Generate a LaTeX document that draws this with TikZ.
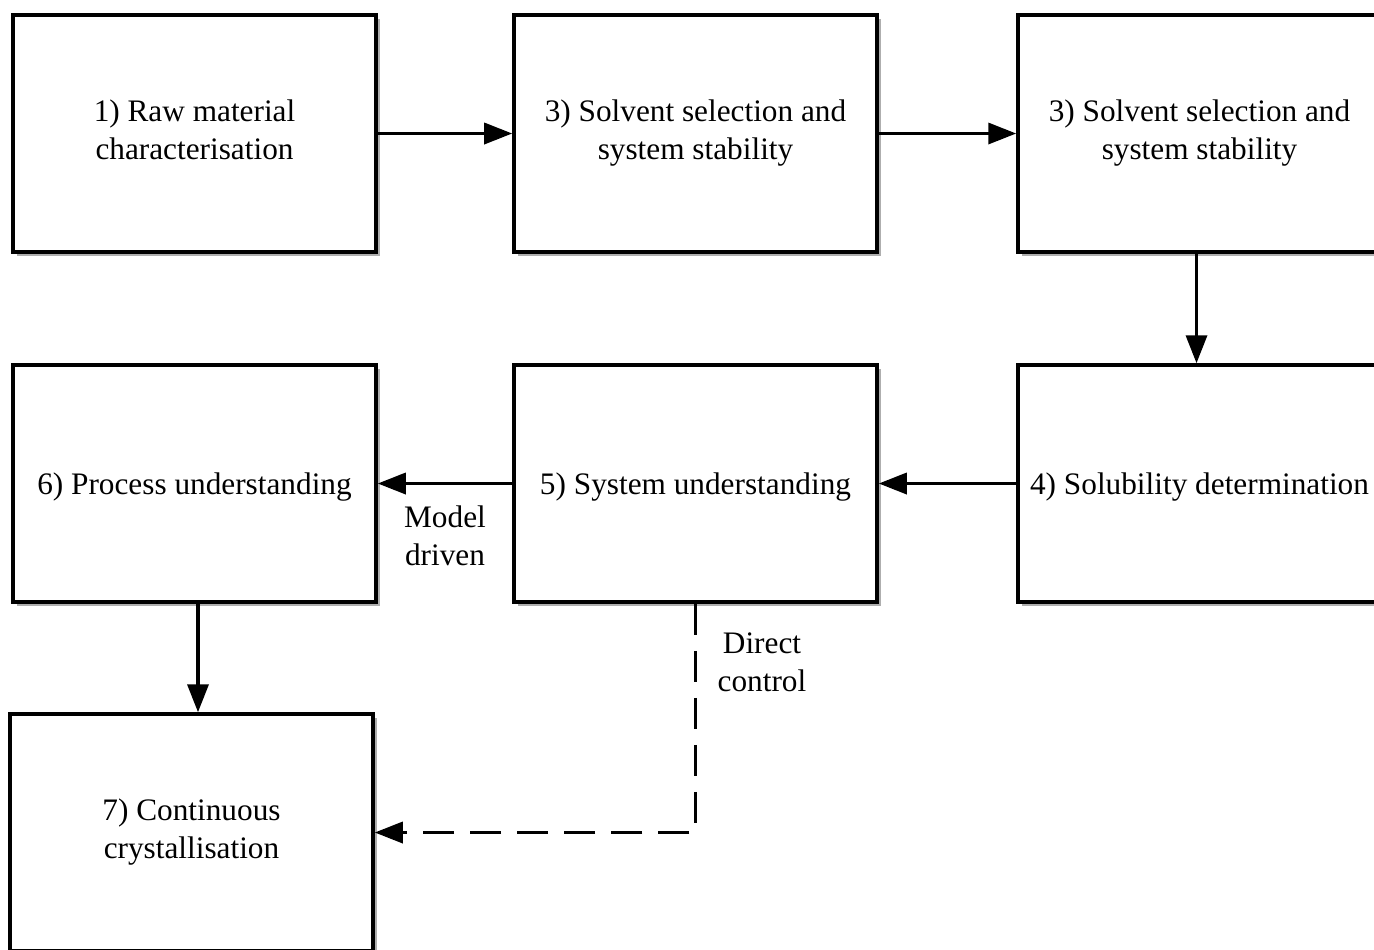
\documentclass[tikz,border=0pt]{standalone}
\usepackage{fontspec}
\setmainfont{Liberation Serif}
\usepackage{tikz}
\usetikzlibrary{arrows.meta,shadows}

\newcommand\topstrut{\rule{0pt}{17pt}}
\newcommand\botstrut{\rule[-4.5pt]{0pt}{1pt}}

\tikzset{
  stagebox/.style={draw, line width=2pt, fill=white, minimum width=7.26cm, minimum height=4.74cm,
    align=center, font=\fontsize{17.8}{21.6}\selectfont,
    execute at begin node=\topstrut, execute at end node=\botstrut,
    drop shadow={shadow xshift=0.08cm, shadow yshift=-0.08cm, opacity=0.45, fill=black!70}},
  flow/.style={line width=2pt, -{Triangle[length=0.56cm, width=0.42cm]}},
  note/.style={align=center, font=\fontsize{17.8}{21.6}\selectfont}
}

\begin{document}
\begin{tikzpicture}
        \useasboundingbox (0,0) rectangle (27.48,-18.98) ;

        \node[stagebox] (raw) at (3.89,-2.67) {1) Raw material\\characterisation} ;
        \node[stagebox] (solventa) at (13.91,-2.67) {3) Solvent selection and\\system stability} ;
        \node[stagebox] (solventb) at (23.99,-2.67) {3) Solvent selection and\\system stability} ;

        \node[stagebox] (solub) at (23.99,-9.67) {4) Solubility determination} ;
        \node[stagebox] (system) at (13.91,-9.67) {5) System understanding} ;
        \node[stagebox] (process) at (3.89,-9.67) {6) Process understanding} ;

        \node[stagebox] (cryst) at (3.83,-16.65) {7) Continuous\\crystallisation} ;

        \draw[flow] (raw) -- (solventa) ;
        \draw[flow] (solventa) -- (solventb) ;
        \draw[flow] ([xshift=-0.06cm]solventb.south) -- ([xshift=-0.06cm]solventb.south |- solub.north) ;
        \draw[flow] (solub) -- (system) ;
        \draw[flow] (system) -- node[note, below=0.3cm] (model) {Model\\driven} (process) ;
        \draw[flow] ([xshift=0.07cm]process.south) -- ([xshift=0.07cm]process.south |- cryst.north) ;

        \draw[flow, dash pattern=on 0.62cm off 0.32cm] (system.south) |- (cryst.east) ;
        \node[note] (direct) at (15.24,-13.24) {Direct\\control} ;

    \end{tikzpicture}
\end{document}
